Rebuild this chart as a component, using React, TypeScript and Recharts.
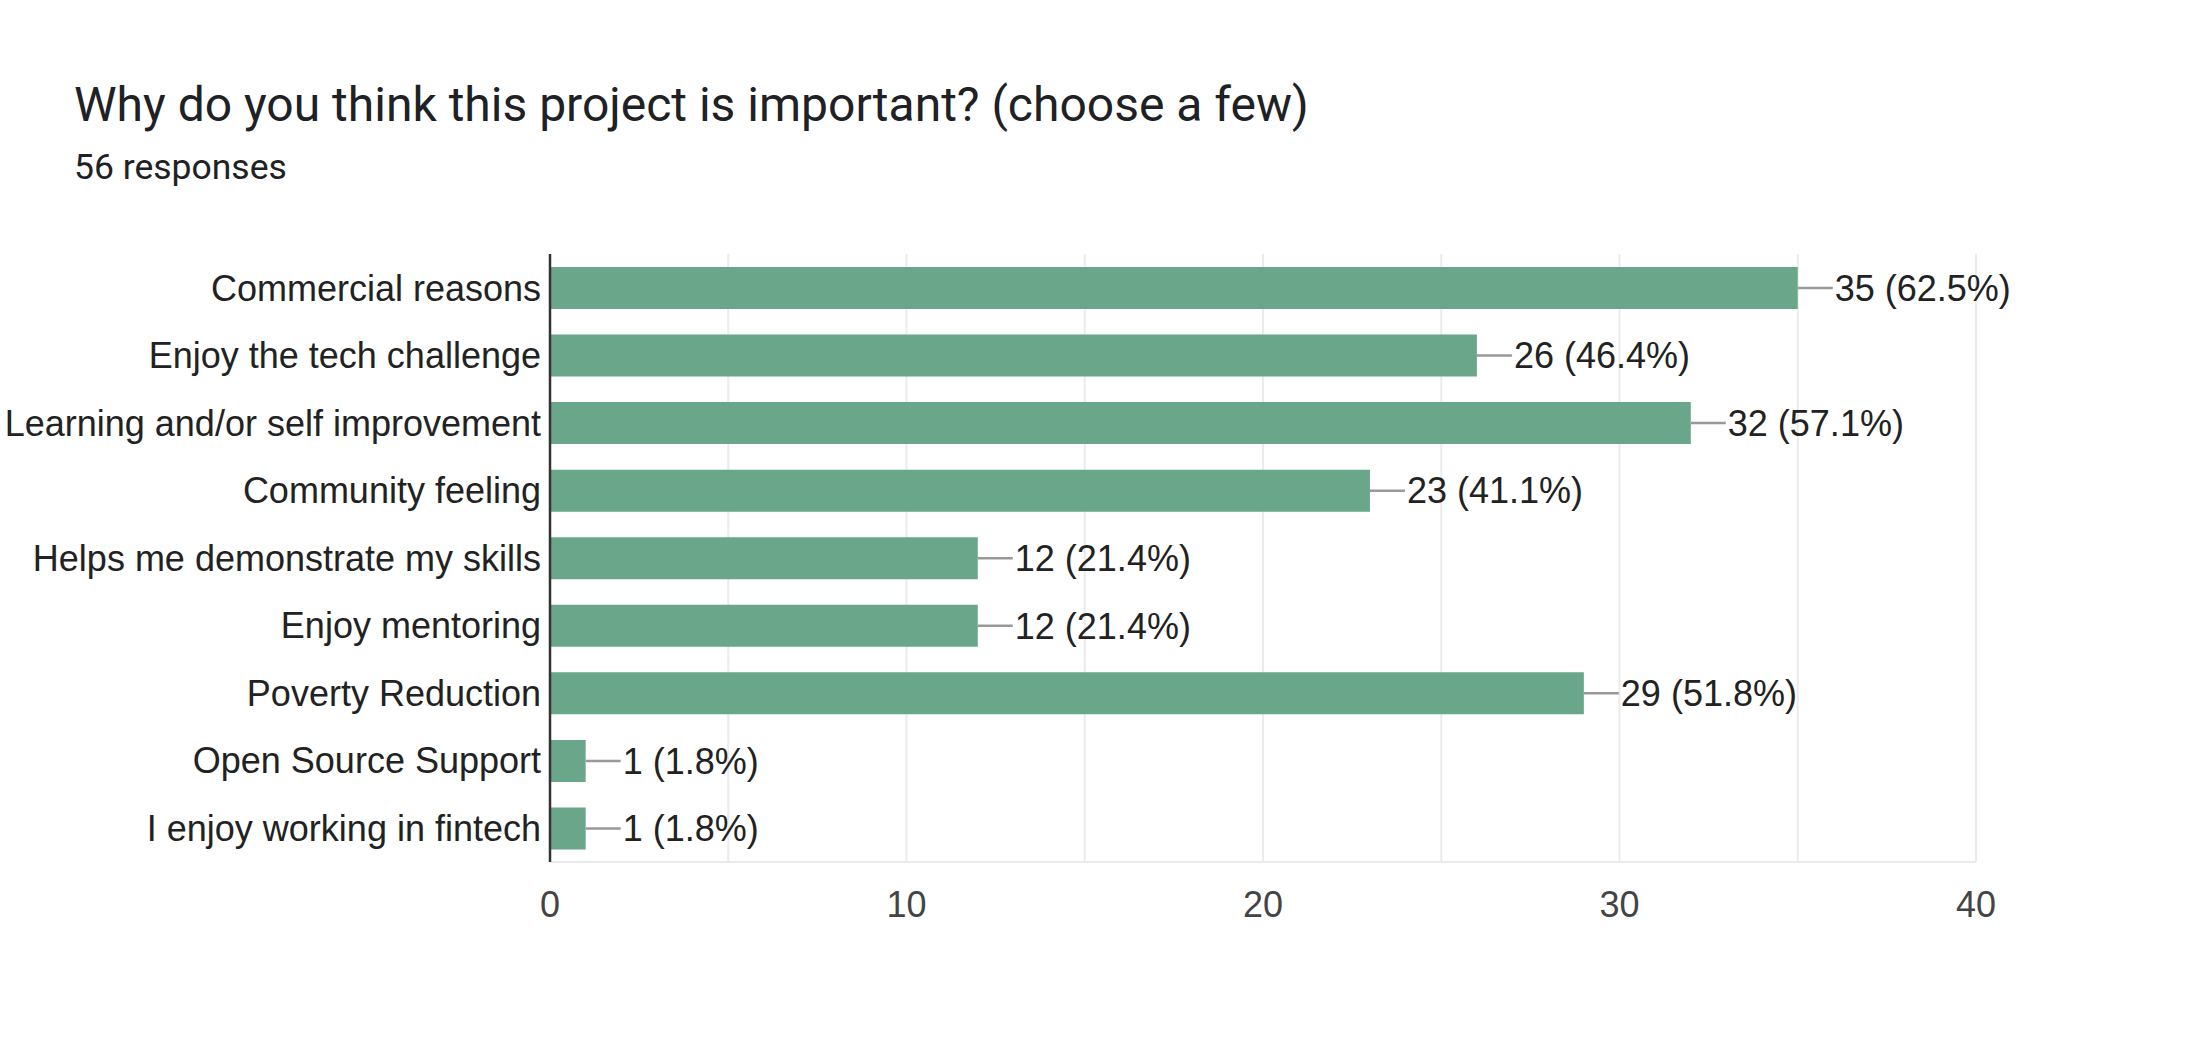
import { BarChart, Bar, XAxis, YAxis, CartesianGrid, LabelList } from "recharts";

const TITLE = "Why do you think this project is important? (choose a few)";
const RESPONSES = 56;

const CATEGORIES = [
  "Commercial reasons",
  "Enjoy the tech challenge",
  "Learning and/or self improvement",
  "Community feeling",
  "Helps me demonstrate my skills",
  "Enjoy mentoring",
  "Poverty Reduction",
  "Open Source Support",
  "I enjoy working in fintech",
];
const COUNTS = [35, 26, 32, 23, 12, 12, 29, 1, 1];
const PERCENTS = ["62.5%", "46.4%", "57.1%", "41.1%", "21.4%", "21.4%", "51.8%", "1.8%", "1.8%"];
const X_TICKS = [0, 5, 10, 15, 20, 25, 30, 35, 40];
const X_LABELED = [0, 10, 20, 30, 40];

const BAR_COLOR = "#6aa689";
const FONT = "Arial, 'Liberation Sans', sans-serif";

const data = CATEGORIES.map((name, i) => ({
  name,
  count: COUNTS[i],
  label: `${COUNTS[i]} (${PERCENTS[i]})`,
}));

function ValueLabel(props: any) {
  const { x, y, width, height, value } = props;
  const endX = x + width;
  const cy = y + height / 2;
  return (
    <g>
      <line x1={endX} y1={cy} x2={endX + 35} y2={cy} stroke="#999999" strokeWidth={2.5} />
      <text
        x={endX + 37}
        y={cy}
        dy="0.355em"
        fill="#222222"
        fontSize={36}
        fontFamily={FONT}
      >
        {value}
      </text>
    </g>
  );
}

export default function App() {
  return (
    <div style={{ position: "absolute", left: 0, top: 0, width: 2196, height: 1044, background: "#fff" }}>
      <div
        style={{
          position: "absolute",
          left: 74,
          top: 81,
          fontFamily: "Roboto, sans-serif",
          fontSize: 48,
          lineHeight: 1,
          color: "#202124",
          whiteSpace: "nowrap",
        }}
      >
        {TITLE}
      </div>
      <div
        style={{
          position: "absolute",
          left: 74,
          top: 150,
          fontFamily: "Roboto, sans-serif",
          fontSize: 35.5,
          lineHeight: 1,
          color: "#202124",
          whiteSpace: "nowrap",
        }}
      >
        {RESPONSES} responses
      </div>
      <div style={{ position: "absolute", left: 0, top: 0 }}>
        <BarChart
          width={2196}
          height={1044}
          data={data}
          layout="vertical"
          margin={{ top: 254, right: 220, bottom: 102, left: 0 }}
          barSize={42}
          style={{ fontFamily: FONT }}
        >
          <CartesianGrid horizontal={false} stroke="#ebebeb" strokeWidth={2} />
          <XAxis
            xAxisId="top"
            orientation="top"
            type="number"
            domain={[0, 40]}
            ticks={X_TICKS}
            height={0}
            tick={false}
            tickLine={false}
            axisLine={{ stroke: "#ebebeb", strokeWidth: 2 }}
          />
          <XAxis
            type="number"
            domain={[0, 40]}
            ticks={X_TICKS}
            interval={0}
            height={80}
            tickLine={false}
            tickSize={0}
            tickMargin={29}
            axisLine={{ stroke: "#ebebeb", strokeWidth: 2 }}
            tick={{ fill: "#444444", fontSize: 36, fontFamily: FONT }}
            tickFormatter={(v: number) => (X_LABELED.includes(v) ? String(v) : "")}
          />
          <YAxis
            type="category"
            dataKey="name"
            width={550}
            interval={0}
            tickLine={false}
            tickSize={0}
            tickMargin={9}
            axisLine={{ stroke: "#333333", strokeWidth: 2.5 }}
            tick={{ fill: "#222222", fontSize: 36, fontFamily: FONT }}
          />
          <Bar dataKey="count" fill={BAR_COLOR} isAnimationActive={false}>
            <LabelList dataKey="label" content={ValueLabel} />
          </Bar>
        </BarChart>
      </div>
    </div>
  );
}
